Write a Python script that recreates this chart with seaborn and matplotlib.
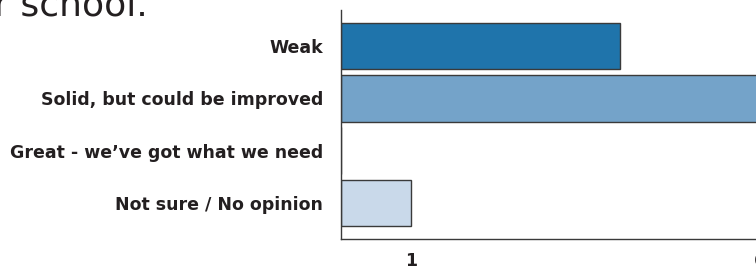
import matplotlib
matplotlib.use("Agg")
import matplotlib.pyplot as plt
import seaborn as sns
import pandas as pd

categories = ["Weak", "Solid, but could be improved", "Great - we\u2019ve got what we need", "Not sure / No opinion"]
values = [4, 7, 0, 1]
colors = ["#1f74ab", "#74a3c9", "#4a8bbf", "#c9d9ea"]
tick_positions = [0, 1, 2, 3, 4, 5, 6, 7]
tick_labels = ["", "1", "", "", "", "", "6", ""]
title_text = "r school."

sns.set_theme(style="white")
plt.rcParams["font.family"] = ["DejaVu Sans"]

W, H = 756, 266
fig = plt.figure(figsize=(W / 100, H / 100), dpi=100)
unit = 69.8
xmax = 7.0
ax = fig.add_axes([341 / W, 27 / H, xmax * unit / W, 229 / H])

df = pd.DataFrame({"cat": categories, "val": values})
sns.barplot(data=df, y="cat", x="val", hue="cat", palette=colors, orient="h",
            order=categories, hue_order=categories, width=0.885, saturation=1,
            edgecolor="#3a3a3a", linewidth=1.0, legend=False, ax=ax)

ax.set_xlim(0, xmax)
ax.set_ylim(3.7, -0.7)
ax.set_xticks(tick_positions)
ax.set_xticklabels(tick_labels, fontsize=12.5, fontweight="bold", color="#231f20")
ax.tick_params(axis="x", direction="in", length=4, width=1, color="#3a3a3a", pad=9)
ax.tick_params(axis="y", length=0, pad=13)
for lab in ax.get_yticklabels():
    lab.set_fontsize(12.5)
    lab.set_fontweight("bold")
    lab.set_color("#231f20")
ax.set_xlabel("")
ax.set_ylabel("")
for s in ["top", "right"]:
    ax.spines[s].set_visible(False)
for s in ["left", "bottom"]:
    ax.spines[s].set_color("#3a3a3a")
    ax.spines[s].set_linewidth(1.0)

fig.text(-0.008, 1.045, title_text, fontsize=26, color="#231f20", ha="left", va="top")

fig.savefig("out.png", dpi=100)
